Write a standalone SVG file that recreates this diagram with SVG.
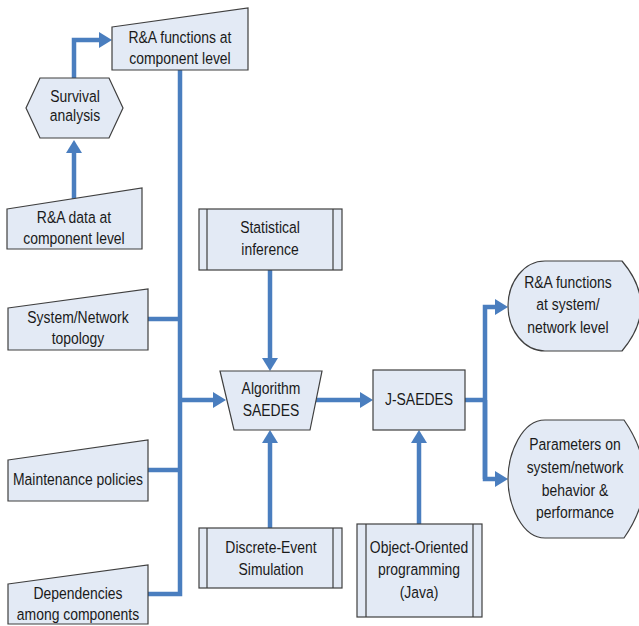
<svg xmlns="http://www.w3.org/2000/svg" width="639" height="626" viewBox="0 0 639 626">
  <style>
    .shape { fill: #E3EAF5; stroke: #3F3F3F; stroke-width: 1.2; }
    .inner { fill: none; stroke: #3F3F3F; stroke-width: 1.2; }
    .label { font-family: "Liberation Sans", Arial, sans-serif; font-size: 17px; fill: #1A1A1A; text-anchor: middle; }
    .link { fill: none; stroke: #4A7EBF; stroke-width: 4.5; stroke-linejoin: miter; }
  </style>
  <defs>
    <marker id="head" markerUnits="userSpaceOnUse" markerWidth="13" markerHeight="16" refX="3" refY="8" orient="auto">
      <path d="M0,0 L13,8 L0,16 Z" fill="#4A7EBF"/>
    </marker>
  </defs>

  <rect width="639" height="626" fill="#FFFFFF"/>

  <!-- connectors -->
  <g id="connectors">
    <!-- survival analysis -> component-level functions -->
    <path class="link" d="M74,78 L74,40 L102,40" marker-end="url(#head)"/>
    <!-- component data -> survival analysis -->
    <path class="link" d="M74,199 L74,150" marker-end="url(#head)"/>
    <!-- left bus -->
    <path class="link" d="M180,70 L180,594 L148,594"/>
    <path class="link" d="M148,319 L180,319"/>
    <path class="link" d="M148,470 L180,470"/>
    <path class="link" d="M180,400 L216,400" marker-end="url(#head)"/>
    <!-- statistical inference -> algorithm -->
    <path class="link" d="M270,270 L270,361" marker-end="url(#head)"/>
    <!-- discrete-event simulation -> algorithm -->
    <path class="link" d="M270,528 L270,440" marker-end="url(#head)"/>
    <!-- algorithm -> J-SAEDES -->
    <path class="link" d="M315,400 L363,400" marker-end="url(#head)"/>
    <!-- object-oriented programming -> J-SAEDES -->
    <path class="link" d="M419,524 L419,440" marker-end="url(#head)"/>
    <!-- right bus -->
    <path class="link" d="M465,400 L485,400"/>
    <path class="link" d="M485,479 L485,307 L498,307" marker-end="url(#head)"/>
    <path class="link" d="M485,400 L485,479 L498,479" marker-end="url(#head)"/>
  </g>

  <!-- inputs (manual input shapes); labels are condensed horizontally -->
  <g id="ra-functions-component">
    <path class="shape" d="M112,27 L248,8 L248,70 L112,70 Z"/>
    <text class="label" transform="matrix(0.82 0 0 1 180 0)" x="0" y="43">R&amp;A functions at</text>
    <text class="label" transform="matrix(0.82 0 0 1 180 0)" x="0" y="64">component level</text>
  </g>

  <g id="survival-analysis">
    <path class="shape" d="M26,108 L40,78 L109,78 L123,108 L109,138 L40,138 Z"/>
    <text class="label" transform="matrix(0.82 0 0 1 75 0)" x="0" y="102">Survival</text>
    <text class="label" transform="matrix(0.82 0 0 1 75 0)" x="0" y="121">analysis</text>
  </g>

  <g id="ra-data-component">
    <path class="shape" d="M7,209 L142,188 L142,249 L7,249 Z"/>
    <text class="label" transform="matrix(0.82 0 0 1 74 0)" x="0" y="223">R&amp;A data at</text>
    <text class="label" transform="matrix(0.82 0 0 1 74 0)" x="0" y="244">component level</text>
  </g>

  <g id="system-topology">
    <path class="shape" d="M8,308 L148,289 L148,350 L8,350 Z"/>
    <text class="label" transform="matrix(0.82 0 0 1 78 0)" x="0" y="323">System/Network</text>
    <text class="label" transform="matrix(0.82 0 0 1 78 0)" x="0" y="344">topology</text>
  </g>

  <g id="maintenance-policies">
    <path class="shape" d="M8,460 L148,440 L148,501 L8,501 Z"/>
    <text class="label" transform="matrix(0.82 0 0 1 78 0)" x="0" y="485">Maintenance policies</text>
  </g>

  <g id="dependencies">
    <path class="shape" d="M8,584 L148,565 L148,624 L8,624 Z"/>
    <text class="label" transform="matrix(0.82 0 0 1 78 0)" x="0" y="599">Dependencies</text>
    <text class="label" transform="matrix(0.82 0 0 1 78 0)" x="0" y="620">among components</text>
  </g>

  <!-- predefined processes -->
  <g id="statistical-inference">
    <rect class="shape" x="199" y="209" width="143" height="61"/>
    <path class="inner" d="M207,209 V270 M333,209 V270"/>
    <text class="label" transform="matrix(0.82 0 0 1 270 0)" x="0" y="233">Statistical</text>
    <text class="label" transform="matrix(0.82 0 0 1 270 0)" x="0" y="255">inference</text>
  </g>

  <g id="discrete-event-simulation">
    <rect class="shape" x="199" y="528" width="143" height="60"/>
    <path class="inner" d="M207,528 V588 M333,528 V588"/>
    <text class="label" transform="matrix(0.82 0 0 1 271 0)" x="0" y="553">Discrete-Event</text>
    <text class="label" transform="matrix(0.82 0 0 1 271 0)" x="0" y="575">Simulation</text>
  </g>

  <g id="object-oriented-programming">
    <rect class="shape" x="357" y="524" width="125" height="93"/>
    <path class="inner" d="M366,524 V617 M473,524 V617"/>
    <text class="label" transform="matrix(0.82 0 0 1 419 0)" x="0" y="553">Object-Oriented</text>
    <text class="label" transform="matrix(0.82 0 0 1 419 0)" x="0" y="575">programming</text>
    <text class="label" transform="matrix(0.82 0 0 1 419 0)" x="0" y="598">(Java)</text>
  </g>

  <!-- core -->
  <g id="algorithm-saedes">
    <path class="shape" d="M220,371 L322,371 L310,430 L234,430 Z"/>
    <text class="label" transform="matrix(0.82 0 0 1 271 0)" x="0" y="394">Algorithm</text>
    <text class="label" transform="matrix(0.82 0 0 1 271 0)" x="0" y="416">SAEDES</text>
  </g>

  <g id="j-saedes">
    <rect class="shape" x="373" y="370" width="92" height="60"/>
    <text class="label" transform="matrix(0.82 0 0 1 419 0)" x="0" y="405">J-SAEDES</text>
  </g>

  <!-- outputs (display shapes) -->
  <g id="ra-functions-system">
    <path class="shape" d="M545,261 L622,261 Q660,306 622,351 L545,351 C524,351 508,330 508,306 C508,282 524,261 545,261 Z"/>
    <text class="label" transform="matrix(0.82 0 0 1 568 0)" x="0" y="288">R&amp;A functions</text>
    <text class="label" transform="matrix(0.82 0 0 1 568 0)" x="0" y="310">at system/</text>
    <text class="label" transform="matrix(0.82 0 0 1 568 0)" x="0" y="333">network level</text>
  </g>

  <g id="behavior-parameters">
    <path class="shape" d="M545,420 L624,420 Q665,479 624,538 L545,538 C522,538 508,505 508,479 C508,453 522,420 545,420 Z"/>
    <text class="label" transform="matrix(0.82 0 0 1 575 0)" x="0" y="450">Parameters on</text>
    <text class="label" transform="matrix(0.82 0 0 1 575 0)" x="0" y="473">system/network</text>
    <text class="label" transform="matrix(0.82 0 0 1 575 0)" x="0" y="496">behavior &amp;</text>
    <text class="label" transform="matrix(0.82 0 0 1 575 0)" x="0" y="518">performance</text>
  </g>
</svg>
